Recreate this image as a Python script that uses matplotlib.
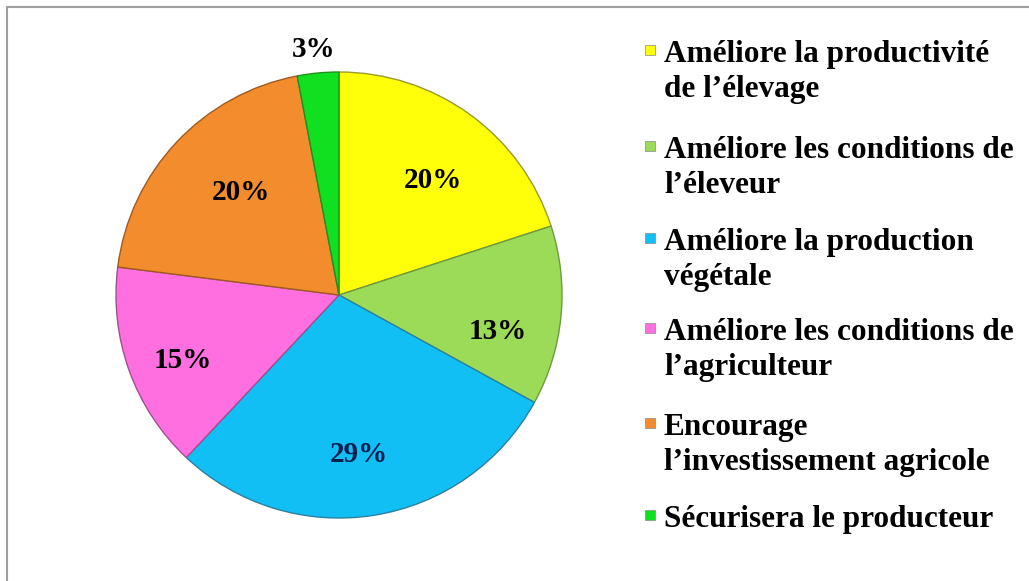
import math
import matplotlib
matplotlib.use("Agg")
import matplotlib.pyplot as plt
from matplotlib.patches import Rectangle
from matplotlib.lines import Line2D

categories = [
    "Améliore la productivité\nde l’élevage",
    "Améliore les conditions de\nl’éleveur",
    "Améliore la production\nvégétale",
    "Améliore les conditions de\nl’agriculteur",
    "Encourage\nl’investissement agricole",
    "Sécurisera le producteur",
]
values = [20, 13, 29, 15, 20, 3]
colors = ["#FFFF0A", "#9CDB58", "#12BFF5", "#FF6FE0", "#F38C2C", "#10E020"]
edge_colors = ["#9A9A30", "#6E9A40", "#2A80A0", "#A05090", "#A05A20", "#209020"]

W, H = 1029, 581
fig = plt.figure(figsize=(W / 100, H / 100), dpi=100)
fig.patch.set_facecolor("white")

# frame lines (top and left)
fig.add_artist(Line2D([7 / W, 1], [1 - 7 / H, 1 - 7 / H], color="#A0A0A0", lw=1.5))
fig.add_artist(Line2D([7 / W, 7 / W], [0, 1 - 7 / H], color="#A0A0A0", lw=1.5))

cx, cy, R = 339, 295, 223
ax = fig.add_axes([(cx - R) / W, (H - cy - R) / H, 2 * R / W, 2 * R / H])

wedges, texts, autotexts = ax.pie(
    values, colors=colors, startangle=90, counterclock=False, radius=1,
    autopct=lambda p: f"{p:.0f}%", pctdistance=0.70,
    wedgeprops=dict(linewidth=1.0),
    textprops=dict(family="Liberation Serif", fontweight="bold", fontsize=21, color="black"),
)
ax.set_xlim(-1, 1)
ax.set_ylim(-1, 1)
ax.set_aspect("equal")
ax.axis("off")
for w, ec in zip(wedges, edge_colors):
    w.set_edgecolor(ec)
autotexts[2].set_color("#0A1E50")
# small slice label outside
theta = (wedges[5].theta1 + wedges[5].theta2) / 2
autotexts[5].set_position((1.12 * math.cos(math.radians(theta)) - 0.02,
                           1.12 * math.sin(math.radians(theta))))
autotexts[5].set_clip_on(False)
# fine placement nudges of the labels inside the slices (axes units)
nudges = [(0.01, -0.055), (0.013, -0.10), (-0.02, -0.022),
          (-0.04, -0.058), (0.07, -0.018), (0.01, -0.012)]
for t, (dx, dy) in zip(autotexts, nudges):
    x, y = t.get_position()
    t.set_position((x + dx, y + dy))

# legend drawn manually
lx_marker = 645
lx_text = 664
entry_y = [52, 148, 240, 330, 425, 517]
for lab, col, ey in zip(categories, colors, entry_y):
    fig.add_artist(Rectangle((lx_marker / W, 1 - (ey + 3) / H), 10 / W, 10 / H,
                             facecolor=col, edgecolor="#888888", lw=0.5))
    fig.text(lx_text / W, 1 - (ey - 12) / H, lab, ha="left", va="top",
             family="Liberation Serif", fontweight="bold", fontsize=22.5,
             linespacing=1.27, color="black")

fig.savefig("out.png", dpi=100)
